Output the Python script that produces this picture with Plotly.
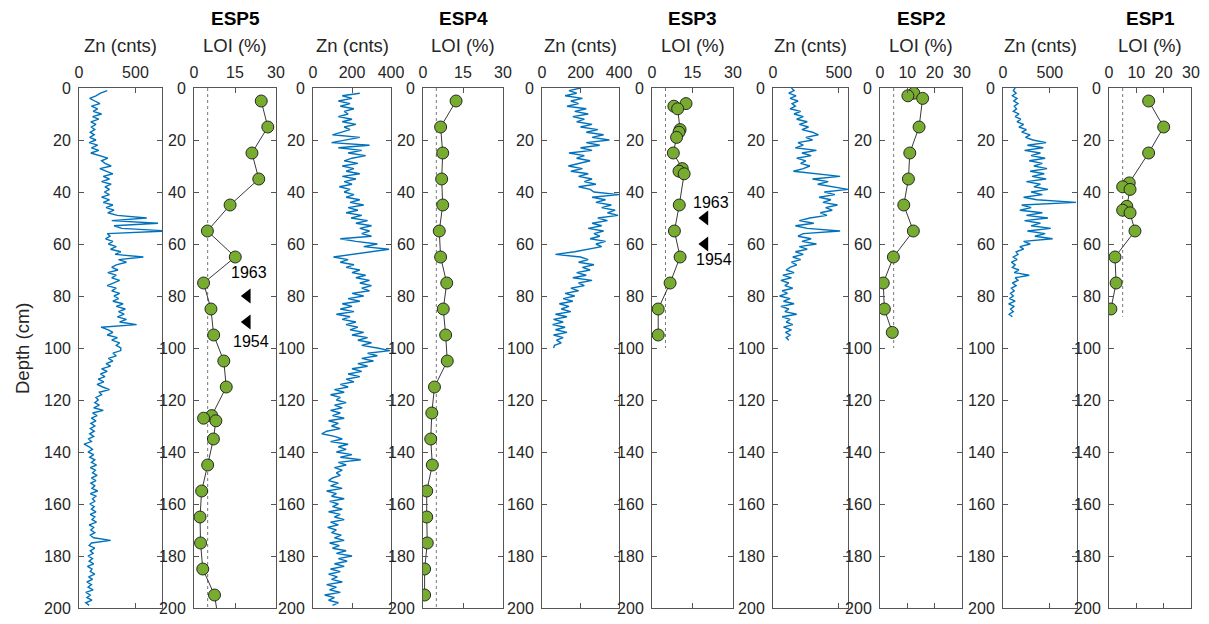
import numpy as np
import plotly.graph_objects as go

# ---------------- data ----------------
cores = ["ESP5", "ESP4", "ESP3", "ESP2", "ESP1"]

# Zn counts, 1 cm steps, first depth given by *_start
zn_esp5_start = 1
zn_esp5 = [250, 190, 150, 95, 140, 185, 110, 165, 125, 200,
           120, 175, 105, 150, 110, 140, 100, 135, 95, 150,
           90, 165, 110, 175, 105, 185, 255, 200, 230, 285,
           185, 240, 300, 215, 270, 200, 285, 230, 270, 225,
           270, 200, 270, 215, 300, 240, 310, 255, 340, 600,
           290, 700, 310, 380, 790, 250, 275, 235, 300, 260,
           330, 280, 370, 320, 570, 350, 420, 330, 290, 345,
           255, 330, 290, 360, 300, 250, 330, 290, 360, 310,
           350, 300, 390, 330, 410, 350, 400, 340, 420, 360,
           510, 195, 260, 300, 250, 340, 290, 360, 330, 370,
           370, 300, 330, 260, 300, 240, 280, 200, 250, 190,
           230, 170, 220, 160, 210, 270, 180, 200, 150, 170,
           140, 180, 130, 215, 120, 160, 110, 150, 105, 140,
           100, 135, 95, 130, 85, 110, 45, 90, 120, 80,
           130, 95, 140, 110, 155, 100, 145, 120, 160, 110,
           150, 105, 140, 115, 165, 100, 150, 120, 140, 95,
           135, 110, 150, 100, 140, 115, 155, 90, 130, 105,
           140, 100, 130, 280, 110, 90, 140, 100, 125, 80,
           120, 90, 130, 75, 115, 100, 140, 85, 120, 70,
           110, 80, 125, 60, 100, 70, 115, 60, 90]

zn_esp4_start = 2
zn_esp4 = [240, 150, 200, 130, 190, 140, 210, 160, 180,
           130, 200, 150, 220, 160, 190, 150, 100, 240, 170,
           95, 290, 130, 250, 180, 270, 200, 160, 230, 150,
           210, 170, 240, 150, 220, 160, 200, 135, 190, 160,
           210, 170, 240, 190, 260, 180, 230, 170, 250, 195,
           280, 220, 300, 240, 290, 250, 300, 140, 220, 330,
           260, 390, 300, 200, 105, 180, 140, 210, 170, 240,
           200, 270, 220, 290, 240, 300, 250, 290, 200, 260,
           180, 240, 150, 200, 140, 210, 120, 190, 150, 220,
           170, 230, 190, 260, 200, 280, 230, 300, 250, 330,
           395, 280, 330, 250, 310, 230, 280, 200, 250, 180,
           240, 170, 210, 140, 180, 110, 160, 90, 140, 120,
           170, 110, 150, 90, 140, 100, 160, 80, 130, 95,
           140, 70, 45, 110, 150, 90, 180, 130, 170, 120,
           200, 140, 245, 130, 170, 110, 150, 120, 140, 100,
           80, 130, 90, 150, 70, 120, 95, 160, 85, 130,
           100, 150, 80, 140, 110, 160, 90, 130, 75, 120,
           95, 145, 110, 160, 85, 135, 100, 170, 120, 200,
           130, 175, 110, 160, 90, 140, 80, 125, 95, 150,
           70, 120, 85, 140, 60, 110, 80, 130, 100]

zn_esp3_start = 0
zn_esp3 = [200, 140, 180, 120, 210, 150, 190, 130, 230, 170,
           240, 160, 220, 180, 260, 200, 290, 230, 320, 260,
           350, 230, 300, 200, 260, 140, 220, 180, 250, 190,
           137, 210, 150, 240, 190, 260, 220, 280, 190, 250,
           270, 400, 260, 330, 280, 360, 310, 380, 340, 395,
           290, 340, 260, 310, 240, 320, 270, 300, 250, 330,
           280, 310, 240, 170, 70, 200, 240, 190, 270, 210,
           250, 180, 230, 160, 260, 190, 220, 150, 190, 120,
           170, 110, 160, 90, 140, 100, 150, 70, 130, 60,
           110, 55, 120, 70, 130, 60, 110, 75, 100, 65,
           60]

zn_esp2_start = 0
zn_esp2 = [140, 160, 120, 175, 130, 190, 145, 170, 130, 210,
           160, 230, 180, 260, 200, 270, 220, 300, 345, 250,
           300, 190, 230, 170, 330, 220, 290, 180, 250, 210,
           280, 230, 155, 330, 510, 300, 420, 340, 460, 570,
           390, 470, 350, 440, 380, 490, 400, 450, 360, 410,
           280, 200, 310, 170, 260, 510, 230, 190, 290, 220,
           330, 200, 260, 170, 230, 150, 210, 140, 180, 130,
           100, 160, 75, 140, 60, 120, 90, 150, 70, 110,
           50, 130, 80, 160, 60, 120, 90, 180, 70, 130,
           100, 150, 80, 140, 95, 130, 100, 120]

zn_esp1_start = 0
zn_esp1 = [130, 110, 140, 100, 150, 115, 160, 120, 145, 110,
           170, 130, 190, 150, 220, 170, 250, 200, 290, 240,
           320, 460, 260, 430, 230, 400, 300, 450, 280, 420,
           330, 470, 290, 440, 310, 460, 250, 400, 330, 480,
           300, 420, 220, 360, 780, 200, 300, 180, 420, 250,
           480, 230, 400, 300, 510, 260, 450, 340, 530, 220,
           290, 180, 220, 140, 160, 110, 150, 90, 130, 100,
           170, 120, 280, 130, 160, 100, 140, 90, 120, 80,
           110, 70, 130, 60, 120, 80, 110, 65, 100]

# LOI (%) samples
loi_esp5_depth = [5, 15, 25, 35, 45, 55, 65, 75, 85, 95, 105, 115, 126, 127, 128,
                  135, 145, 155, 165, 175, 185, 195, 205]
loi_esp5 = [24.6, 27.0, 21.2, 23.7, 13.2, 4.9, 15.1, 3.5, 6.2, 7.2, 10.9, 11.8, 6.5, 3.5, 8.0,
            7.1, 5.0, 2.8, 2.2, 2.4, 3.2, 7.5, 9.0]
loi_esp4_depth = [5, 15, 25, 35, 45, 55, 65, 75, 85, 95, 105, 115, 125, 135, 145, 155, 165, 175, 185, 195]
loi_esp4 = [12.4, 6.6, 7.4, 7.0, 7.4, 6.1, 6.6, 8.9, 7.6, 8.5, 9.1, 4.3, 3.3, 2.9, 3.5, 1.4, 1.4, 1.6, 0.6, 0.6]
loi_esp3_depth = [6, 7, 8, 16, 17, 19, 25, 31, 32, 33, 45, 55, 65, 75, 85, 95]
loi_esp3 = [12.6, 8.1, 9.5, 10.4, 10.0, 9.1, 7.9, 11.2, 10.0, 11.9, 10.1, 8.3, 10.4, 6.7, 2.3, 2.3]
loi_esp2_depth = [2, 3, 4, 15, 25, 35, 45, 55, 65, 75, 85, 94]
loi_esp2 = [12.4, 10.2, 15.6, 14.3, 10.9, 10.4, 8.7, 12.2, 4.9, 1.2, 1.6, 4.5]
loi_esp1_depth = [5, 15, 25, 36.5, 38, 39, 45.5, 47, 48, 55, 65, 75, 85]
loi_esp1 = [14.5, 20.0, 14.5, 7.4, 5.0, 7.7, 6.5, 5.0, 7.7, 9.5, 2.2, 2.6, 0.7]

# reference LOI line (%) and its depth extent per core
loi_ref = 5
loi_ref_bottom = [200, 200, 100, 100, 88]

# dating markers
date_marks = {
    "ESP5": {"x": 19.5, "depths": [80, 90], "labels": ["1963", "1954"], "label_x": [20, 21], "label_depths": [71, 97.5]},
    "ESP3": {"x": 19.6, "depths": [50, 60], "labels": ["1963", "1954"], "label_x": [22, 23], "label_depths": [44, 66]},
}

zn_max = [735, 400, 400, 570, 790]
zn_ticks = [[0, 500], [0, 200, 400], [0, 200, 400], [0, 500], [0, 500]]
loi_ticks = [[0, 15, 30], [0, 15, 30], [0, 15, 30], [0, 10, 20, 30], [0, 10, 20, 30]]
depth_ticks = list(range(0, 201, 20))

zn_series = [(zn_esp5_start, zn_esp5), (zn_esp4_start, zn_esp4), (zn_esp3_start, zn_esp3),
             (zn_esp2_start, zn_esp2), (zn_esp1_start, zn_esp1)]
loi_series = [(loi_esp5_depth, loi_esp5), (loi_esp4_depth, loi_esp4), (loi_esp3_depth, loi_esp3),
              (loi_esp2_depth, loi_esp2), (loi_esp1_depth, loi_esp1)]

# ---------------- layout geometry (pixels) ----------------
W, H = 1209, 624
panels_px = [(79, 162), (194, 276), (313, 391), (423, 503), (542, 619),
             (652, 733), (773, 848), (880, 962), (1003, 1077), (1109, 1191)]
top_px, bot_px = 88, 608
FONT = "Liberation Sans, Arial, sans-serif"
TXT = "#262626"
AX = "#555555"

def fx(p):
    return p / W

def fy(p):
    return 1 - p / H

fig = go.Figure()
layout = dict(
    width=W, height=H, margin=dict(l=0, r=0, t=0, b=0, pad=0),
    paper_bgcolor="white", plot_bgcolor="white", showlegend=False,
    font=dict(family=FONT, color=TXT, size=16),
)
annotations = []

for k in range(10):
    idx = k + 1
    sfx = "" if idx == 1 else str(idx)
    core_i = k // 2
    is_zn = (k % 2 == 0)
    x0, x1 = panels_px[k]
    xr = [0, zn_max[core_i]] if is_zn else [0, 30]
    ticks = zn_ticks[core_i] if is_zn else loi_ticks[core_i]
    layout["xaxis" + sfx] = dict(
        domain=[fx(x0), fx(x1)], range=xr, side="top", anchor="y" + sfx,
        tickvals=ticks, ticks="inside", ticklen=5, tickcolor=AX,
        showline=True, linecolor=AX, linewidth=1, mirror="ticks",
        showgrid=False, zeroline=False, tickfont=dict(size=16, color=TXT),
        automargin=False, ticklabelstandoff=3,
    )
    layout["yaxis" + sfx] = dict(
        domain=[fy(bot_px), fy(top_px)], range=[200, 0], anchor="x" + sfx,
        tickvals=depth_ticks, ticks="inside", ticklen=5, tickcolor=AX,
        showline=True, linecolor=AX, linewidth=1, mirror="ticks",
        showgrid=False, zeroline=False, tickfont=dict(size=16, color=TXT),
        automargin=False, ticklabelstandoff=4,
    )
    xa, ya = "x" + sfx, "y" + sfx
    if is_zn:
        start, vals = zn_series[core_i]
        depth = start + np.arange(len(vals))
        fig.add_trace(go.Scatter(x=vals, y=depth, mode="lines", xaxis=xa, yaxis=ya,
                                 line=dict(color="#0072BD", width=1.4)))
        annotations.append(dict(text="Zn (cnts)", x=fx((x0 + x1) / 2), y=fy(46), xref="paper",
                                yref="paper", showarrow=False, font=dict(size=18.5, color=TXT),
                                xanchor="center", yanchor="middle"))
    else:
        d, v = loi_series[core_i]
        fig.add_trace(go.Scatter(x=[loi_ref, loi_ref], y=[0, loi_ref_bottom[core_i]], mode="lines",
                                 xaxis=xa, yaxis=ya, line=dict(color="#555555", width=0.8, dash="dot")))
        fig.add_trace(go.Scatter(x=v, y=d, mode="lines+markers", xaxis=xa, yaxis=ya,
                                 line=dict(color="#222222", width=0.9),
                                 marker=dict(size=12, color="#77AC30", line=dict(color="#1a1a1a", width=0.9))))
        annotations.append(dict(text="LOI (%)", x=fx((x0 + x1) / 2), y=fy(46), xref="paper",
                                yref="paper", showarrow=False, font=dict(size=18.5, color=TXT),
                                xanchor="center", yanchor="middle"))
        annotations.append(dict(text="<b>" + cores[core_i] + "</b>", x=fx((x0 + x1) / 2), y=fy(18),
                                xref="paper", yref="paper", showarrow=False,
                                font=dict(size=19, color="#000000"), xanchor="center", yanchor="middle"))
        name = cores[core_i]
        if name in date_marks:
            m = date_marks[name]
            fig.add_trace(go.Scatter(x=[m["x"]] * len(m["depths"]), y=m["depths"], mode="markers",
                                     xaxis=xa, yaxis=ya,
                                     marker=dict(symbol="triangle-left", size=13, color="black")))
            for lab, lx, ld in zip(m["labels"], m["label_x"], m["label_depths"]):
                annotations.append(dict(text=lab, x=lx, y=ld, xref=xa, yref=ya, showarrow=False,
                                        font=dict(size=16, color="#000000"),
                                        xanchor="center", yanchor="middle"))

annotations.append(dict(text="Depth (cm)", x=fx(22), y=fy(348), xref="paper", yref="paper",
                        showarrow=False, textangle=-90, font=dict(size=18.5, color=TXT),
                        xanchor="center", yanchor="middle"))
layout["annotations"] = annotations
fig.update_layout(**layout)

# remove the default page margin so the 1209x624 figure fills the window exactly
page_fix = ("document.body.style.margin='0';document.body.style.padding='0';"
            "document.body.style.overflow='hidden';"
            "document.documentElement.style.overflow='hidden';")
fig.write_html("out.html", post_script=page_fix,
               config={"displayModeBar": False, "staticPlot": True})
